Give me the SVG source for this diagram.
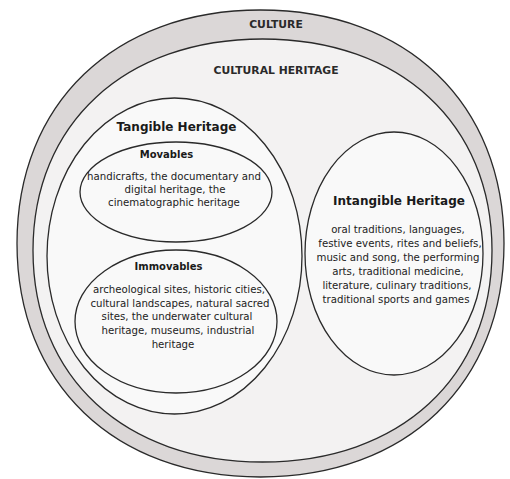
<svg xmlns="http://www.w3.org/2000/svg" width="510" height="479" viewBox="0 0 510 479">
<style>
.shape{stroke:#2a2a2a;stroke-width:1.3}
.band{fill:#dbd7d7}
.inner{fill:#f3f2f2}
.ell{fill:#f9f9f9}
.cap{font-family:"DejaVu Sans",Verdana,sans-serif;font-weight:bold;font-size:10.8px;fill:#2a2a2a;text-anchor:middle}
.ttl{font-family:"DejaVu Sans",Verdana,sans-serif;font-weight:bold;font-size:12px;fill:#1a1a1a;text-anchor:middle}
.sub{font-family:"DejaVu Sans",Verdana,sans-serif;font-weight:bold;font-size:10px;fill:#1a1a1a;text-anchor:middle}
.txt{font-family:"DejaVu Sans",Verdana,sans-serif;font-size:10.2px;fill:#222;text-anchor:middle}
</style>
<rect width="510" height="479" fill="#ffffff"/>
<g id="culture">
<path class="shape band" d="M504,243.5 C504,383.6 406.6,477 260.5,477 C114.4,477 17,383.6 17,243.5 C17,103.4 114.4,10 260.5,10 C406.6,10 504,103.4 504,243.5Z"/>
<text class="cap" x="276" y="28">CULTURE</text>
</g>
<g id="cultural-heritage">
<path class="shape inner" d="M492,250.5 C492,377.4 400.2,462 262.5,462 C124.8,462 33,377.4 33,250.5 C33,123.6 124.8,39 262.5,39 C400.2,39 492,123.6 492,250.5Z"/>
<text class="cap" x="276" y="74">CULTURAL HERITAGE</text>
</g>
<g id="tangible-heritage">
<ellipse class="shape ell" cx="174.5" cy="256" rx="127.5" ry="158"/>
<text class="ttl" x="176.5" y="131">Tangible Heritage</text>
</g>
<g id="movables">
<ellipse class="shape ell" cx="176" cy="192" rx="96" ry="50"/>
<text class="sub" x="166.5" y="158">Movables</text>
<text class="txt" x="174" y="180">handicrafts, the documentary and</text>
<text class="txt" x="175" y="193">digital heritage, the</text>
<text class="txt" x="174" y="206">cinematographic heritage</text>
</g>
<g id="immovables">
<ellipse class="shape ell" cx="176" cy="321.5" rx="101" ry="71.5"/>
<text class="sub" x="168.5" y="270">Immovables</text>
<text class="txt" x="179" y="293">archeological sites, historic cities,</text>
<text class="txt" x="180" y="306.5">cultural landscapes, natural sacred</text>
<text class="txt" x="177" y="320">sites, the underwater cultural</text>
<text class="txt" x="178" y="334">heritage, museums, industrial</text>
<text class="txt" x="173" y="348">heritage</text>
</g>
<g id="intangible-heritage">
<ellipse class="shape ell" cx="394" cy="253.5" rx="89" ry="121.5"/>
<text class="ttl" x="399" y="205">Intangible Heritage</text>
<text class="txt" x="398" y="233">oral traditions, languages,</text>
<text class="txt" x="400" y="247">festive events, rites and beliefs,</text>
<text class="txt" x="398" y="261">music and song, the performing</text>
<text class="txt" x="398" y="275">arts, traditional medicine,</text>
<text class="txt" x="397" y="289">literature, culinary traditions,</text>
<text class="txt" x="396" y="303">traditional sports and games</text>
</g>
<g id="connectors"/>
</svg>
